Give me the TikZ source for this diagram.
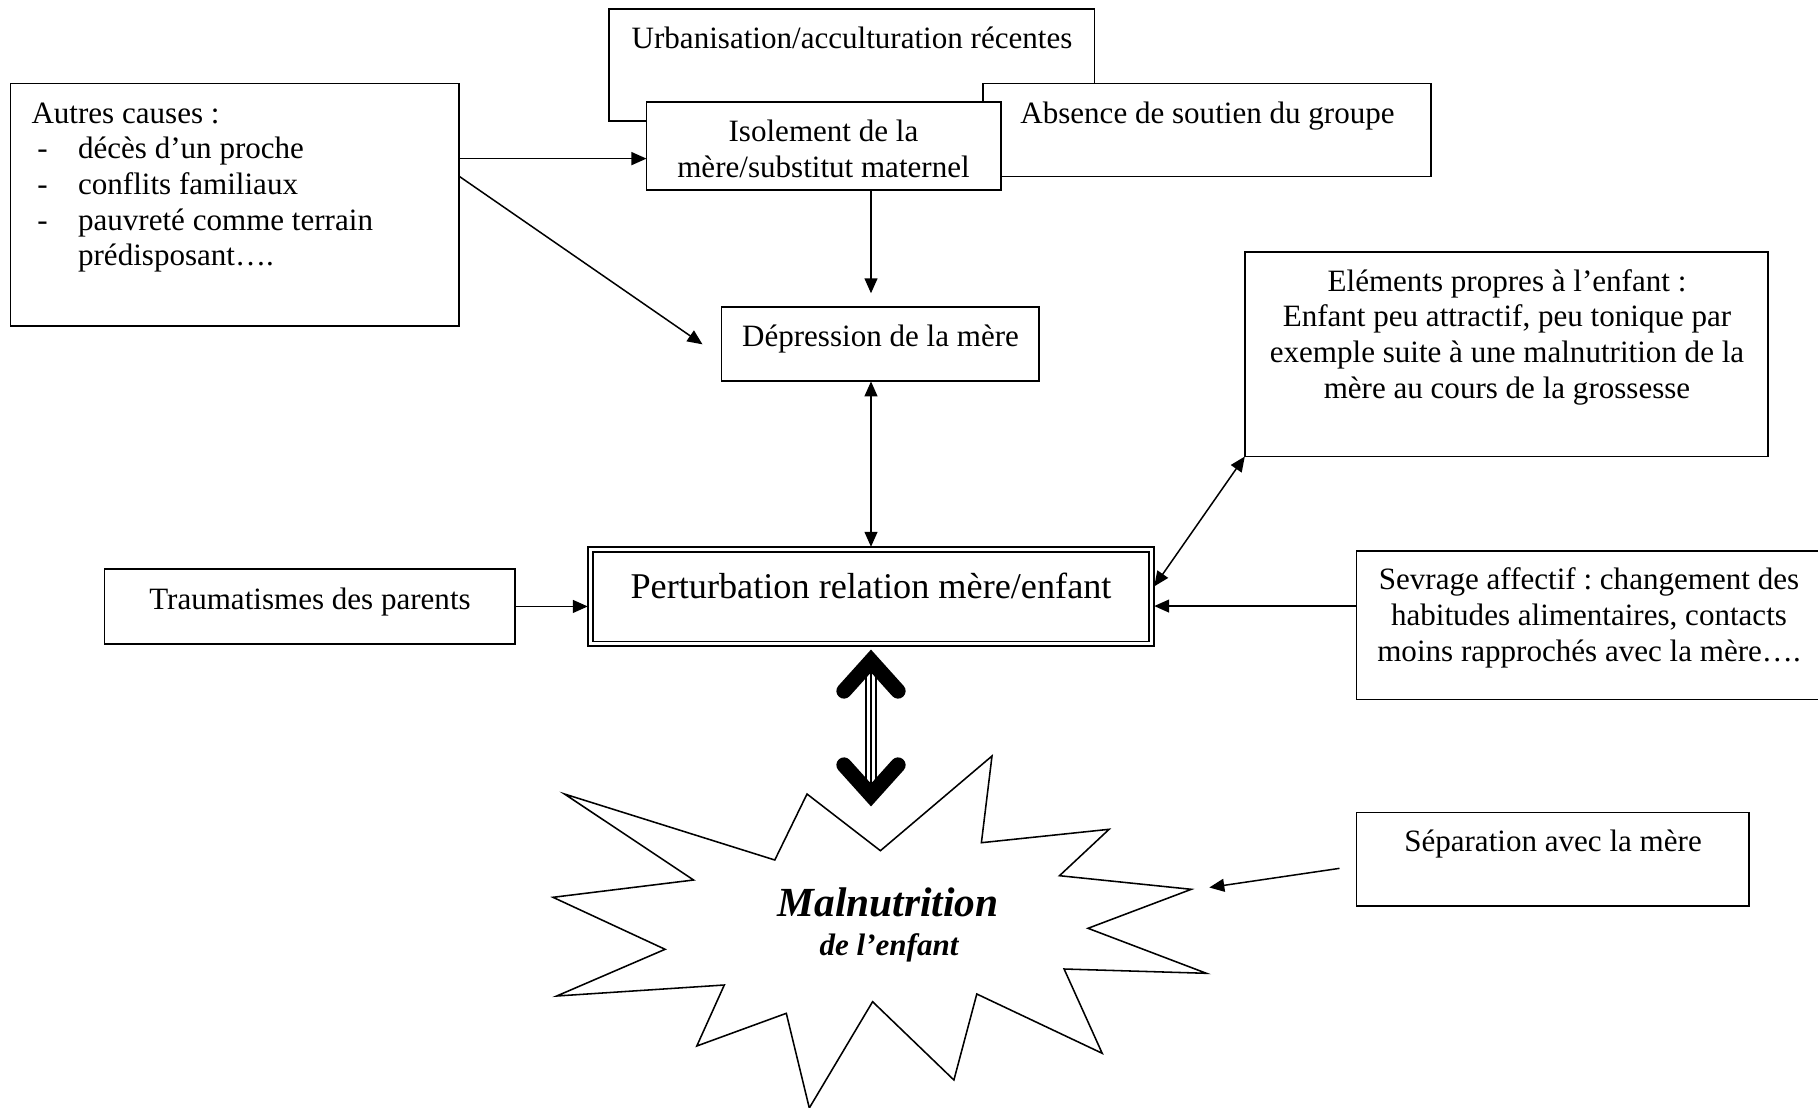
\documentclass[tikz,border=0pt]{standalone}
\usepackage{fontspec}
\setmainfont{Liberation Serif}
\usetikzlibrary{arrows.meta,fit,calc}
\frenchspacing

\begin{document}
\begin{tikzpicture}[x=0.3864pt, y=-0.3864pt,
  box/.style={draw, line width=0.7pt, fill=white, inner sep=0pt, outer sep=0pt},
  txt/.style={inner sep=0pt, font=\fontsize{12}{13.8}\selectfont, align=center},
  arr/.style={line width=0.58pt, -{Triangle[length=5.8pt,width=5pt]}},
  arrboth/.style={line width=0.58pt, {Triangle[length=5.8pt,width=5pt]}-{Triangle[length=5.8pt,width=5pt]}},
  chevron/.style={line width=5.9pt, line cap=round, line join=miter},
]
\useasboundingbox (0,0) rectangle (1818,1108);
\clip (0,0) rectangle (1818,1108);

% --- boxes (back to front where they overlap) ---
\node[box, fit={(608.7,9.3) (1094.5,120.6)}] (urb) {};
\node[box, fit={(983,83.5) (1430.7,176.5)}] (abs) {};
\node[box, fit={(646.5,102) (1001,189.8)}] (iso) {};
\node[box, fit={(10.5,83.5) (459.2,325.8)}] (autres) {};
\node[box, fit={(721.5,307.3) (1038.8,381.4)}] (dep) {};
\node[box, fit={(1244.8,251.6) (1768,456.5)}] (elem) {};
\node[box, fit={(104.5,569.2) (515.3,643.7)}] (trauma) {};
\node[box, line width=0.75pt, fit={(587.8,546.8) (1154.2,646)}] (pert) {};
\draw[line width=0.65pt] ($(pert.north west)+(5.5,5.5)$) rectangle ($(pert.south east)+(-5.5,-4.5)$);
\node[box, fit={(1356.5,551.4) (1835,699.5)}] (sev) {};
\node[box, fit={(1356.5,812.5) (1749,905.6)}] (sep) {};

% --- texts ---
\node[txt] (urbT) at (852,37.5) {Urbanisation/acculturation récentes};
\node[txt] (absT) at (1207.5,116) {Absence de soutien du groupe};
\node[txt] (isoT) at (823.5,148.8) {Isolement de la\\mère/substitut maternel};
\node[txt, anchor=west, align=left] (autresT) at (31,187.5) {Autres causes :\\
  \hspace*{2.3pt}\makebox[15.7pt][l]{-}décès d’un proche\\
  \hspace*{2.3pt}\makebox[15.7pt][l]{-}conflits familiaux\\
  \hspace*{2.3pt}\makebox[15.7pt][l]{-}pauvreté comme terrain\\
  \hspace*{18pt}prédisposant….};
\node[txt] (depT) at (880.5,339.5) {Dépression de la mère};
\node[txt] (elemT) at (1507,337) {Eléments propres à l’enfant :\\Enfant peu attractif, peu tonique par\\exemple suite à une malnutrition de la\\mère au cours de la grossesse};
\node[txt] (traumaT) at (310,601.8) {Traumatismes des parents};
\node[txt, font=\fontsize{14}{16}\selectfont] (pertT) at (871,586) {Perturbation relation mère/enfant};
\node[txt] (sevT) at (1589,618) {Sevrage affectif : changement des\\habitudes alimentaires, contacts\\moins rapprochés avec la mère….};
\node[txt] (sepT) at (1553,844.5) {Séparation avec la mère};

% --- starburst ---
\draw[line width=0.6pt, fill=white]
  (564.5,794) -- (693.6,880) -- (553,897.3) -- (665.1,949.3) -- (556.7,996)
  -- (724.3,985) -- (696.8,1046) -- (786.3,1013.3) -- (809.3,1108)
  -- (872.6,1001.7) -- (953.9,1080) -- (976.8,994) -- (1102.2,1053.3)
  -- (1064.1,969) -- (1206.4,973.3) -- (1088,928.3) -- (1191.3,889.3)
  -- (1059.5,875.7) -- (1109.1,829.3) -- (981.4,842.7) -- (992,756)
  -- (880.4,850.7) -- (807,794) -- (774.8,860) -- cycle;
\node[txt, font=\fontsize{16}{19}\selectfont\bfseries\itshape] (malT) at (888,902.5) {Malnutrition};
\node[txt, font=\fontsize{12}{14}\selectfont\bfseries\itshape] (enfT) at (889,947.5) {de l’enfant};

% --- connectors ---
\draw[arr] ($(autres.north east)!0.31!(autres.south east)$) coordinate (aI) -- (aI -| iso.west);
\draw[arr] ($(autres.north east)!0.383!(autres.south east)$) -- ($(dep.west)+(-19,0)$);
\draw[arr] (pert.north |- iso.south) -- ($(pert.north |- dep.north)+(0,-14)$);
\draw[arrboth] (pert.north |- dep.south) -- (pert.north);
\draw[arrboth] (elem.south west) -- ($(pert.east)+(0,-10)$);
\draw[arr] ($(sev.north west)!0.369!(sev.south west)$) coordinate (sI) -- (sI -| pert.east);
\draw[arr] (trauma.east) -- (trauma.east -| pert.west);
\coordinate (sepTail) at ($(sep.west)+(-17,9.3)$);
\coordinate (burstR) at (1209.3,887.5);
\draw[arr] (sepTail) -- (burstR);

% --- heavy double arrow between the relation box and the starburst ---
\coordinate (bigTop) at (871,661);
\coordinate (bigBot) at (871,795);
\draw[line width=4.6pt] (871,668) -- (871,788);
\draw[line width=2.9pt, white] (871,668) -- (871,788);
\draw[line width=0.6pt] (871,668) -- (871,788);
\draw[chevron] (844,691) -- (bigTop) -- (898,691);
\draw[chevron] (844,765) -- (bigBot) -- (898,765);
\end{tikzpicture}
\end{document}
